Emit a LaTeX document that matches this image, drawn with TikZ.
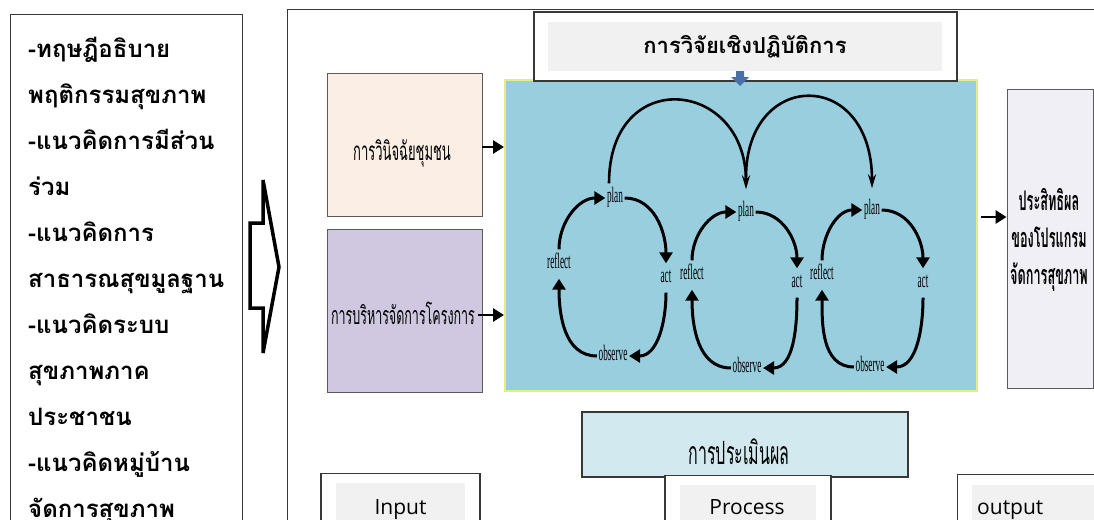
\documentclass[tikz,border=0pt]{standalone}
\usepackage{fontspec}
\usetikzlibrary{arrows.meta,calc}
\newfontfamily\thaisans[Script=Thai]{Loma}
\newfontfamily\thainarrow[Script=Thai,FakeStretch=0.5]{Loma}
\newfontfamily\thaimid[Script=Thai,FakeStretch=0.47]{Loma}
\newfontfamily\cyclefont[FakeStretch=0.42]{Liberation Serif}
\newfontfamily\uifont{Open Sans}
\definecolor{peach}{HTML}{FBEEE4}
\definecolor{lavender}{HTML}{D0C8E0}
\definecolor{cyanbg}{HTML}{99CEDE}
\definecolor{cyanedge}{HTML}{E3EE80}
\definecolor{outbg}{HTML}{EFEFF5}
\definecolor{evalbg}{HTML}{D2E9EF}
\definecolor{tabgray}{HTML}{F1F1F1}
\definecolor{framegray}{HTML}{383838}
\definecolor{boxedge}{HTML}{5A5A5A}
\definecolor{downblue}{HTML}{4A70A8}
\begin{document}
\begin{tikzpicture}[x=1pt,y=1pt,
  frame/.style={draw=framegray,line width=1pt},
  inbox/.style={draw=boxedge,line width=0.9pt,inner sep=0pt},
  tabbox/.style={draw=framegray,line width=1.2pt,fill=white,inner sep=0pt},
  tabfill/.style={fill=tabgray,inner sep=0pt},
  lefttext/.style={anchor=base west,inner sep=0pt,font=\thaisans\bfseries\fontsize{24}{24}\selectfont},
  narrowtext/.style={inner sep=0pt,font=\thainarrow\fontsize{26}{26}\selectfont},
  uitext/.style={inner sep=0pt,anchor=base,font=\uifont\fontsize{21}{21}\selectfont},
  lab/.style={font=\cyclefont\fontsize{22}{22}\selectfont,inner xsep=1.5pt,inner ysep=10pt,text height=9pt,text depth=0pt},
  cyc/.style={line width=3pt,-{Triangle[length=11pt,width=13pt]}},
  bigarc/.style={line width=2.6pt,-{Stealth[length=14pt,width=8pt]}},
  conn/.style={line width=2.8pt,-{Triangle[length=11pt,width=13pt]}}]
\useasboundingbox (0,0) rectangle (1094,-519);
\clip (0,0) rectangle (1094,-519);
\fill[white] (0,0) rectangle (1094,-519);

% left column of concepts
\draw[frame] (10,-15) rectangle (242,-560);
\foreach \t [count=\i] in {-ทฤษฎีอธิบาย,พฤติกรรมสุขภาพ,-แนวคิดการมีส่วน,ร่วม,-แนวคิดการ,สาธารณสุขมูลฐาน,-แนวคิดระบบ,สุขภาพภาค,ประชาชน,-แนวคิดหมู่บ้าน,จัดการสุขภาพ}
  \node[lefttext] (line\i) at (28,{-57-46*(\i-1)}) {\t};

% hollow block arrow
\draw[line width=3.5pt,line join=miter] (250,-223) -- (263,-223) -- (263,-180) -- (279,-267)
  -- (263,-353) -- (263,-308) -- (250,-308) -- cycle;

% main frame
\draw[frame] (287,-10) rectangle (1130,-560);

% input boxes
\node[inbox,fill=peach,minimum width=155pt,minimum height=143pt] (peach) at (404.5,-144.5) {};
\node[narrowtext] (peachtxt) at (402,-153) {การวินิจฉัยชุมชน};
\node[inbox,fill=lavender,minimum width=155pt,minimum height=163pt] (purple) at (404.5,-310.5) {};
\node[narrowtext,font=\thainarrow\fontsize{25}{25}\selectfont] (purpletxt) at (403,-313) {การบริหารจัดการโครงการ};

% action research cycles
\node[draw=cyanedge,line width=2pt,fill=cyanbg,inner sep=0pt,minimum width=472pt,minimum height=311pt] (cyan) at (741,-235.5) {};

\node[lab] (p1) at (615,-198) {plan};
\node[lab] (a1) at (666,-278) {act};
\node[lab] (o1) at (613,-356) {observe};
\node[lab] (r1) at (559,-264) {reflect};
\node[lab] (p2) at (746,-212) {plan};
\node[lab] (a2) at (797,-283) {act};
\node[lab] (o2) at (747,-368) {observe};
\node[lab] (r2) at (692,-275) {reflect};
\node[lab] (p3) at (872,-210) {plan};
\node[lab] (a3) at (923,-283) {act};
\node[lab] (o3) at (870,-367) {observe};
\node[lab] (r3) at (822,-275) {reflect};

\foreach \k in {1,2,3} {
  \draw[cyc] (r\k.north) to[out=90,in=180] (p\k.west);
  \draw[cyc] (p\k.east) to[out=0,in=90] (a\k.north);
  \draw[cyc] (a\k.south) to[out=-90,in=0] (o\k.east);
  \draw[cyc] (o\k.west) to[out=180,in=-90] (r\k.south);
}
\draw[bigarc,shorten >=8pt] ([xshift=-6pt]p1.north) to[out=90,in=90,looseness=2.2] (p2.north);
\draw[bigarc,shorten <=20pt,shorten >=7pt] (p2.north) to[out=90,in=90,looseness=2.6] (p3.north);

% heading box
\node[tabbox,minimum width=423pt,minimum height=69pt] (title) at (745.5,-46.5) {};
\node[tabfill,minimum width=394pt,minimum height=49pt] (titlefill) at (745,-46.5) {};
\node[inner sep=0pt,font=\thaisans\bfseries\fontsize{22}{22}\selectfont] (titletxt) at (745,-47) {การวิจัยเชิงปฏิบัติการ};
\fill[downblue] (736,-71) -- (744,-71) -- (744,-77) -- (749,-77) -- (740,-86) -- (731,-77) -- (736,-77) -- cycle;

% result box
\node[inbox,fill=outbg,minimum width=86pt,minimum height=299pt] (outbox) at (1050,-238.5) {};
\node[inner sep=0pt,align=center,font=\thaimid\bfseries\fontsize{27}{37}\selectfont] (outtxt) at (1049,-240) {ประสิทธิผล\\ของโปรแกรม\\จัดการสุขภาพ};

% connectors
\draw[conn] (peach.east |- 0,-147) -- (cyan.west |- 0,-147);
\draw[conn] ($(purple.east)+(-4,-4.5)$) -- (cyan.west |- 0,-315);
\draw[conn] (cyan.east |- 0,-217) ++(3,0) -- (outbox.west |- 0,-217);

% evaluation box
\node[draw=framegray,line width=1.5pt,fill=evalbg,inner sep=0pt,minimum width=326pt,minimum height=65pt] (eval) at (745,-444.5) {};
\node[inner sep=0pt,font=\thainarrow\fontsize{32}{32}\selectfont] (evaltxt) at (739,-452) {การประเมินผล};

% bottom tabs
\node[tabbox,minimum width=159pt,minimum height=90pt,anchor=north] (inputtab) at (400.5,-473) {};
\node[tabfill,minimum width=129pt,minimum height=80pt,anchor=north] (inputfill) at (400.5,-483) {};
\node[uitext] (inputtxt) at (400.5,-514) {Input};
\node[tabbox,minimum width=166pt,minimum height=90pt,anchor=north] (processtab) at (748,-475) {};
\node[tabfill,minimum width=136pt,minimum height=80pt,anchor=north] (processfill) at (748,-485) {};
\node[uitext] (processtxt) at (747,-514) {Process};
\node[tabbox,minimum width=180pt,minimum height=90pt,anchor=north west] (outputtab) at (957,-474) {};
\node[tabfill,minimum width=150pt,minimum height=80pt,anchor=north west] (outputfill) at (972,-485) {};
\node[uitext,anchor=base west] (outputtxt) at (977,-514) {output};
\end{tikzpicture}
\end{document}
